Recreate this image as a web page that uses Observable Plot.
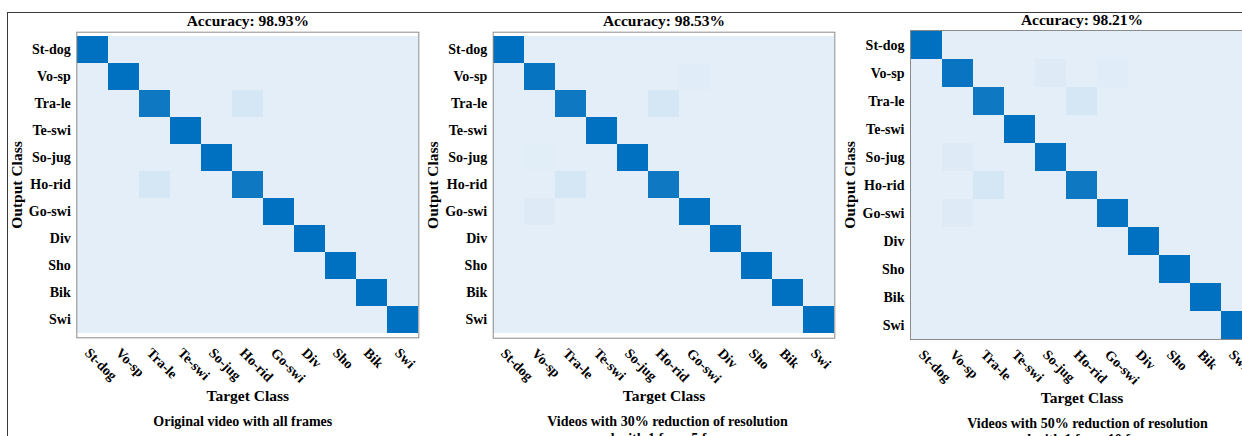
<!DOCTYPE html>
<html>
<head>
<meta charset="utf-8">
<script src="https://cdn.jsdelivr.net/npm/d3@7"></script>
<script src="https://cdn.jsdelivr.net/npm/@observablehq/plot@0.6"></script>
<style>
  html, body { margin: 0; padding: 0; background: #fff; }
  #fig { position: relative; width: 1242px; height: 436px; overflow: hidden; background: #fff; }
  #border { position: absolute; left: 7px; top: 12px; width: 1300px; height: 500px;
            border-top: 1.5px solid #3a3a3a; border-left: 1.5px solid #3a3a3a; }
  .panel { position: absolute; top: 0; width: 420px; height: 436px; }
  .panel svg { overflow: visible; max-width: none !important; }
</style>
</head>
<body>
<div id="fig"><div id="border"></div></div>
<script>
// ---- data ----
const classes = ["St-dog", "Vo-sp", "Tra-le", "Te-swi", "So-jug", "Ho-rid", "Go-swi", "Div", "Sho", "Bik", "Swi"];
const accuracies = ["Accuracy: 98.93%", "Accuracy: 98.53%", "Accuracy: 98.21%"];
const captions = [
  "Original video with all frames",
  "Videos with 30% reduction of resolution\nand with 1 from 5 frames",
  "Videos with 50% reduction of resolution\nand with 1 from 10 frames"
];
// diagonal values (%), in class order
const diag1 = [100, 100, 94, 100, 100, 94, 100, 100, 100, 100, 100];
const diag2 = [100, 97, 94, 100, 100, 94, 98.5, 100, 100, 100, 100];
const diag3 = [100, 96, 94, 100, 98, 94, 98, 100, 100, 100, 100];
// off-diagonal non-zero cells: [output class, target class, %]
const off1 = [["Tra-le", "Ho-rid", 6], ["Ho-rid", "Tra-le", 6]];
const off2 = [["Tra-le", "Ho-rid", 6], ["Ho-rid", "Tra-le", 6], ["Vo-sp", "Go-swi", 1.5], ["Go-swi", "Vo-sp", 2], ["So-jug", "Vo-sp", 1]];
const off3 = [["Tra-le", "Ho-rid", 6], ["Ho-rid", "Tra-le", 6], ["Vo-sp", "So-jug", 2], ["Vo-sp", "Go-swi", 1.5], ["So-jug", "Vo-sp", 2], ["Go-swi", "Vo-sp", 2]];

// ---- layout (per panel) ----
const layout = [
  {left: 0,   width: 420, ml: 76.3, mr: 1.7, mt: 31.7, mb: 98.7, capDx: -5},
  {left: 420, width: 420, ml: 72.7, mr: 5.7, mt: 31.7, mb: 98.3, capDx: 3.5},
  {left: 840, width: 420, ml: 70,   mr: 7,   mt: 30,   mb: 97,   capDx: 5.5}
];
const diags = [diag1, diag2, diag3];
const offs = [off1, off2, off3];

function buildTable(diag, off) {
  const rows = [];
  for (const o of classes) for (const t of classes) {
    let v = 0;
    if (o === t) v = diag[classes.indexOf(o)];
    const f = off.find(d => d[0] === o && d[1] === t);
    if (f) v = f[2];
    rows.push({output: o, target: t, value: v});
  }
  return rows;
}

const font = '"Liberation Serif", "Times New Roman", serif';
const fig = document.getElementById("fig");

layout.forEach((L, i) => {
  const data = buildTable(diags[i], offs[i]);
  const chart = Plot.plot({
    width: L.width,
    height: 436,
    marginLeft: L.ml, marginRight: L.mr, marginTop: L.mt, marginBottom: L.mb,
    style: {fontFamily: font, fontWeight: "bold", fontSize: "14px", color: "#000", background: "transparent", overflow: "visible", maxWidth: "none"},
    x: {domain: classes, padding: 0, axis: null, label: null},
    y: {domain: classes, padding: 0, label: null},
    color: {type: "linear", domain: [0, 100], range: ["#e3eef8", "#0070c0"], interpolate: "rgb"},
    marks: [
      Plot.cell(data, {x: "target", y: "output", fill: "value", inset: 0}),
      Plot.frame({stroke: "#8a8a8a", strokeWidth: 1}),
      Plot.axisY({tickSize: 0, tickPadding: 6, fontSize: 14, label: null}),
      Plot.text(classes, {x: d => d, frameAnchor: "bottom", dx: -9, dy: 16, rotate: 45,
                          textAnchor: "start", lineAnchor: "bottom", fontSize: 14}),
      Plot.text([accuracies[i]], {frameAnchor: "top", dy: -6, textAnchor: "middle", lineAnchor: "bottom", fontSize: 15.5}),
      Plot.text(["Target Class"], {frameAnchor: "bottom", dy: 63, textAnchor: "middle", lineAnchor: "bottom", fontSize: 15.5}),
      Plot.text(["Output Class"], {frameAnchor: "left", dx: -60, rotate: -90, textAnchor: "middle", lineAnchor: "middle", fontSize: 15.5}),
      Plot.text([captions[i]], {frameAnchor: "bottom", dx: L.capDx, dy: 76.5, textAnchor: "middle", lineAnchor: "top", lineHeight: 1.18, fontSize: 14})
    ]
  });
  const wrap = document.createElement("div");
  wrap.className = "panel";
  wrap.style.left = L.left + "px";
  wrap.appendChild(chart);
  fig.appendChild(wrap);
});
</script>
</body>
</html>
